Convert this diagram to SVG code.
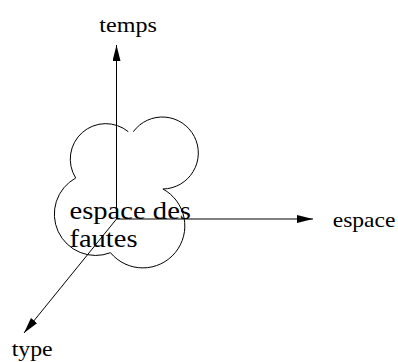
<svg xmlns="http://www.w3.org/2000/svg" width="398" height="362" viewBox="0 0 398 362">
<style>
.ax{stroke:#000;stroke-width:1;fill:none}
.lbl{font-family:"Liberation Serif","Times New Roman",serif;font-size:21px;fill:#000}
.big{font-family:"Liberation Serif","Times New Roman",serif;font-size:25.5px;fill:#000}
.cloud{stroke:#000;stroke-width:1;fill:none}
</style>
<defs>
<marker id="ah" markerUnits="userSpaceOnUse" markerWidth="18" markerHeight="10" refX="16" refY="4" orient="auto">
<path d="M0,0 L16,4 L0,8 Z" fill="#000"/>
</marker>
</defs>
<rect width="398" height="362" fill="#fff"/>
<g id="cloud">
<path class="cloud" d="M133.3,131.7 A36,36 0 1 1 162.9,189 A42,42 0 1 1 110.5,252.7 A41.3,41.3 0 0 1 75.7,178 A35.5,35.5 0 0 1 128.3,131.7"/>
<text class="big" x="69.5" y="218.5" textLength="121.5" lengthAdjust="spacingAndGlyphs">espace des</text>
<text class="big" x="69.5" y="247" textLength="68" lengthAdjust="spacingAndGlyphs">fautes</text>
</g>
<g id="connectors">
<line class="ax" x1="116.5" y1="219" x2="116.5" y2="45" marker-end="url(#ah)"/>
<line class="ax" x1="116.5" y1="219" x2="313" y2="219" marker-end="url(#ah)"/>
<line class="ax" x1="116.5" y1="219" x2="24" y2="333" marker-end="url(#ah)"/>
</g>
<g id="temps"><text class="lbl" x="99.3" y="32" textLength="57.5" lengthAdjust="spacingAndGlyphs">temps</text></g>
<g id="espace"><text class="lbl" x="332.7" y="226.5" textLength="62.7" lengthAdjust="spacingAndGlyphs">espace</text></g>
<g id="type"><text class="lbl" x="11.7" y="355.5" textLength="41" lengthAdjust="spacingAndGlyphs">type</text></g>
</svg>
